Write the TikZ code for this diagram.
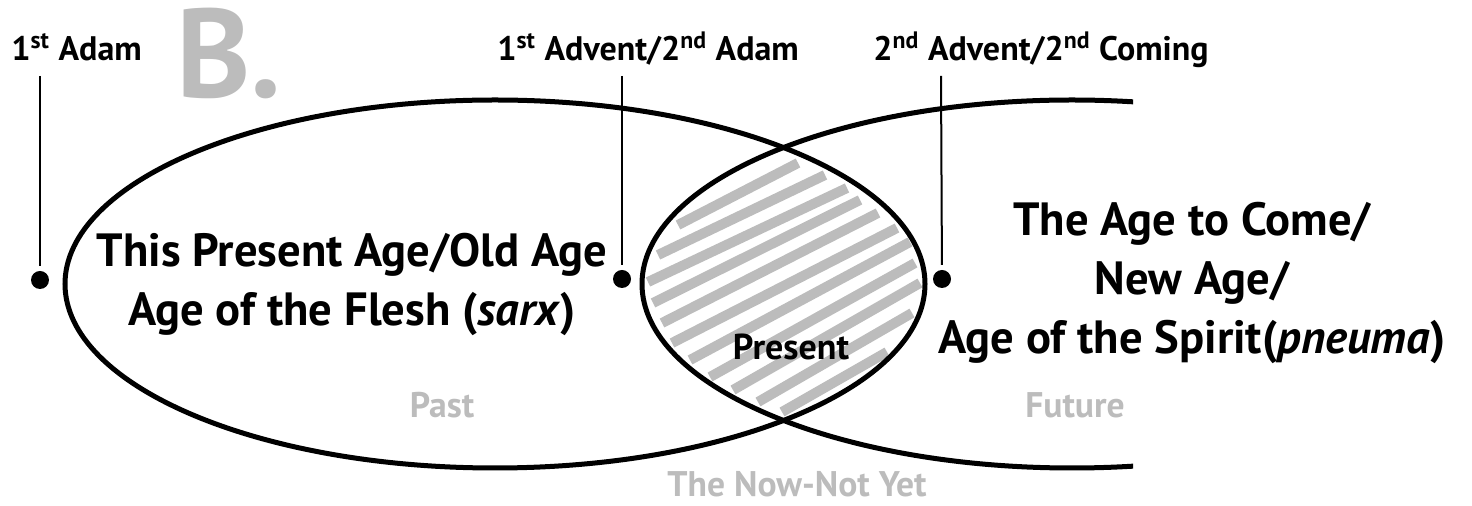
\documentclass[tikz,border=0pt]{standalone}
\usepackage{fontspec}
\setmainfont{PT Sans}
\usepackage{tikz}
\usetikzlibrary{positioning}
\definecolor{ghost}{RGB}{188,188,188}
\tikzset{
  eralabel/.style={font=\fontsize{17}{20}\selectfont\bfseries, anchor=base, inner sep=0pt},
  agetext/.style={font=\fontsize{23.3}{29.5}\selectfont\bfseries, align=center, inner sep=0pt},
  faded/.style={font=\fontsize{17.8}{20}\selectfont\bfseries, color=ghost, anchor=base, inner sep=0pt},
  eventdot/.style={circle, fill=black, minimum size=9pt, inner sep=0pt, outer sep=2.5pt},
  stem/.style={line width=1pt, color=black},
  rim/.style={line width=2.5pt, color=black},
  hatch/.style={line width=5pt, color=ghost}
}

\begin{document}
\begin{tikzpicture}[x=0.5pt, y=-0.5pt]
  \useasboundingbox (0,0) rectangle (1472,506);
  % hatching of the overlap
  \foreach \xa/\ya/\xb/\yb in {678/225/798/163, 658/255/825/175, 648/282/847/188,
      653/303/860/200, 662/323/878/213, 672/343/897/228, 690/360/910/242,
      710/377/915/263, 733/390/920/283, 758/402/912/313, 782/412/887/352}
    \draw[hatch] (\xa,\ya) -- (\xb,\yb);
  % the two ages
  \draw[rim] (495,284) ellipse [x radius=430, y radius=184];
  \begin{scope}
    \clip (0,0) rectangle (1133,506);
    \draw[rim] (1072,284) ellipse [x radius=430, y radius=184];
  \end{scope}
  % events
  \node[eventdot] (adam) at (40,280) {};
  \node[eventdot] (advent) at (622,279) {};
  \node[eventdot] (coming) at (942,279) {};
  \coordinate (adamtop) at (40,76);
  \coordinate (adventtop) at (622,76);
  \coordinate (comingtop) at (941,76);
  \draw[stem] (adamtop) -- (adam);
  \draw[stem] (adventtop) -- (advent);
  \draw[stem] (comingtop) -- (coming);
  \node[eralabel, anchor=base west] (adamlbl) at (11,61) {1\textsuperscript{st} Adam};
  \node[eralabel, anchor=base west] (adventlbl) at (497,61) {1\textsuperscript{st} Advent/2\textsuperscript{nd} Adam};
  \node[eralabel, anchor=base west] (cominglbl) at (873,61) {2\textsuperscript{nd} Advent/2\textsuperscript{nd} Coming};
  \node[font=\fontsize{63}{63}\selectfont\bfseries, color=ghost, anchor=base west, inner sep=0pt] (bmark) at (176,98) {B.};
  % age names
  \node[agetext] (oldage) at (352,284) {This Present Age/Old Age\\Age of the Flesh (\textit{sarx})};
  \node[agetext] (newage) at (1192,283) {The Age to Come/\\New Age/\\Age of the Spirit(\textit{pneuma})};
  \node[eralabel, font=\fontsize{18}{20}\selectfont\bfseries] (present) at (791,360) {Present};
  \node[faded] (past) at (442,418) {Past};
  \node[faded] (future) at (1075,418) {Future};
  \node[faded, text depth=0pt] (nownotyet) at (797,497) {The Now-Not Yet};
\end{tikzpicture}
\end{document}
